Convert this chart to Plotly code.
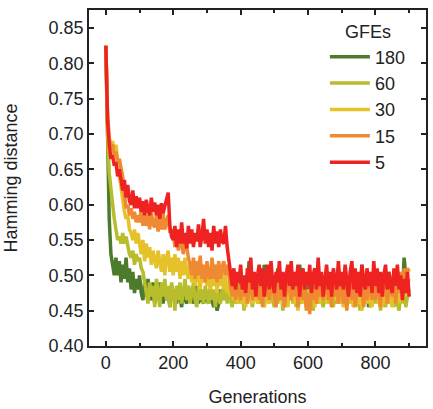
import plotly.graph_objects as go

# Generations sampled every 5
gens = list(range(0, 901, 5))

series_names = ["180", "60", "30", "15", "5"]
colors = ["#4d7b2c", "#b7bd2c", "#e6c22a", "#ef8a32", "#ef2222"]

gfe_180 = [
    0.825, 0.66, 0.58, 0.53, 0.51, 0.50, 0.525, 0.50, 0.52, 0.49,
    0.515, 0.495, 0.525, 0.49, 0.51, 0.48, 0.505, 0.475, 0.495, 0.48,
    0.50, 0.475, 0.465, 0.49, 0.47, 0.495, 0.475, 0.465, 0.49, 0.46,
    0.485, 0.465, 0.49, 0.47, 0.46, 0.485, 0.465, 0.475, 0.455, 0.48,
    0.465, 0.48, 0.46, 0.485, 0.465, 0.455, 0.48, 0.465, 0.46, 0.485,
    0.465, 0.48, 0.46, 0.47, 0.485, 0.46, 0.48, 0.465, 0.46, 0.48,
    0.465, 0.46, 0.48, 0.465, 0.455, 0.47, 0.45, 0.46, 0.48, 0.465,
    0.485, 0.465, 0.49, 0.47, 0.485, 0.465, 0.49, 0.47, 0.495, 0.475,
    0.495, 0.47, 0.49, 0.465, 0.485, 0.52, 0.47, 0.49, 0.465, 0.485,
    0.495, 0.47, 0.49, 0.475, 0.515, 0.48, 0.47, 0.495, 0.475, 0.49,
    0.495, 0.47, 0.51, 0.475, 0.49, 0.465, 0.495, 0.475, 0.47, 0.49,
    0.475, 0.495, 0.47, 0.49, 0.465, 0.515, 0.495, 0.47, 0.49, 0.475,
    0.465, 0.49, 0.47, 0.495, 0.475, 0.47, 0.49, 0.465, 0.485, 0.495,
    0.47, 0.485, 0.49, 0.465, 0.485, 0.495, 0.47, 0.49, 0.51, 0.465,
    0.49, 0.475, 0.495, 0.47, 0.485, 0.49, 0.465, 0.485, 0.495, 0.47,
    0.485, 0.49, 0.515, 0.47, 0.49, 0.475, 0.455, 0.47, 0.49, 0.475,
    0.495, 0.47, 0.485, 0.49, 0.465, 0.485, 0.495, 0.47, 0.49, 0.475,
    0.465, 0.49, 0.475, 0.495, 0.47, 0.49, 0.475, 0.525, 0.495, 0.475,
    0.47,
]
gfe_60 = [
    0.825, 0.70, 0.645, 0.62, 0.60, 0.58, 0.565, 0.55, 0.555, 0.545,
    0.56, 0.545, 0.555, 0.54, 0.53, 0.525, 0.535, 0.515, 0.53, 0.52,
    0.525, 0.51, 0.505, 0.49, 0.475, 0.46, 0.49, 0.47, 0.485, 0.455,
    0.495, 0.47, 0.455, 0.49, 0.47, 0.495, 0.465, 0.485, 0.455, 0.49,
    0.475, 0.45, 0.485, 0.465, 0.49, 0.46, 0.475, 0.495, 0.465, 0.485,
    0.46, 0.48, 0.49, 0.465, 0.455, 0.485, 0.465, 0.48, 0.46, 0.485,
    0.47, 0.46, 0.485, 0.465, 0.48, 0.455, 0.485, 0.465, 0.46, 0.48,
    0.465, 0.485, 0.46, 0.48, 0.465, 0.455, 0.48, 0.46, 0.47, 0.485,
    0.46, 0.48, 0.45, 0.475, 0.46, 0.485, 0.47, 0.455, 0.48, 0.465,
    0.485, 0.46, 0.47, 0.48, 0.455, 0.47, 0.485, 0.46, 0.48, 0.465,
    0.455, 0.48, 0.46, 0.475, 0.485, 0.45, 0.47, 0.48, 0.46, 0.475,
    0.485, 0.46, 0.475, 0.455, 0.48, 0.465, 0.46, 0.485, 0.465, 0.455,
    0.48, 0.46, 0.475, 0.45, 0.47, 0.48, 0.46, 0.485, 0.465, 0.455,
    0.47, 0.48, 0.46, 0.485, 0.465, 0.455, 0.48, 0.46, 0.47, 0.48,
    0.46, 0.475, 0.455, 0.48, 0.485, 0.46, 0.475, 0.455, 0.48, 0.465,
    0.46, 0.45, 0.475, 0.48, 0.46, 0.475, 0.485, 0.455, 0.47, 0.46,
    0.48, 0.46, 0.475, 0.45, 0.48, 0.47, 0.455, 0.48, 0.46, 0.475,
    0.48, 0.455, 0.475, 0.46, 0.45, 0.475, 0.46, 0.48, 0.455, 0.47,
    0.48,
]
gfe_30 = [
    0.825, 0.72, 0.675, 0.68, 0.69, 0.675, 0.685, 0.66, 0.64, 0.625,
    0.605, 0.59, 0.58, 0.585, 0.565, 0.56, 0.55, 0.565, 0.545, 0.56,
    0.545, 0.53, 0.55, 0.52, 0.545, 0.525, 0.54, 0.515, 0.535, 0.52,
    0.51, 0.535, 0.515, 0.505, 0.53, 0.50, 0.525, 0.535, 0.505, 0.525,
    0.50, 0.53, 0.505, 0.525, 0.495, 0.52, 0.50, 0.525, 0.505, 0.495,
    0.52, 0.49, 0.51, 0.485, 0.515, 0.495, 0.48, 0.51, 0.49, 0.505,
    0.485, 0.51, 0.48, 0.505, 0.485, 0.515, 0.475, 0.50, 0.485, 0.505,
    0.48, 0.50, 0.475, 0.49, 0.47, 0.485, 0.465, 0.48, 0.46, 0.475,
    0.485, 0.46, 0.475, 0.455, 0.485, 0.465, 0.48, 0.46, 0.49, 0.47,
    0.46, 0.485, 0.465, 0.48, 0.455, 0.485, 0.47, 0.46, 0.49, 0.475,
    0.465, 0.455, 0.485, 0.47, 0.48, 0.46, 0.49, 0.465, 0.455, 0.48,
    0.47, 0.49, 0.46, 0.48, 0.45, 0.475, 0.485, 0.46, 0.48, 0.465,
    0.46, 0.48, 0.465, 0.49, 0.455, 0.48, 0.47, 0.46, 0.485, 0.465,
    0.48, 0.46, 0.49, 0.47, 0.455, 0.48, 0.465, 0.49, 0.46, 0.475,
    0.465, 0.455, 0.48, 0.49, 0.46, 0.47, 0.485, 0.455, 0.49, 0.465,
    0.46, 0.48, 0.45, 0.475, 0.49, 0.46, 0.48, 0.465, 0.455, 0.48,
    0.465, 0.49, 0.46, 0.48, 0.455, 0.47, 0.49, 0.46, 0.48, 0.465,
    0.455, 0.48, 0.465, 0.49, 0.46, 0.48, 0.465, 0.49, 0.47, 0.485,
    0.495,
]
gfe_15 = [
    0.825, 0.73, 0.695, 0.68, 0.685, 0.67, 0.675, 0.66, 0.665, 0.65,
    0.64, 0.615, 0.595, 0.60, 0.585, 0.595, 0.58, 0.59, 0.575, 0.585,
    0.575, 0.595, 0.57, 0.59, 0.57, 0.585, 0.565, 0.59, 0.572, 0.568,
    0.585, 0.562, 0.58, 0.565, 0.588, 0.565, 0.578, 0.585, 0.56, 0.565,
    0.56, 0.54, 0.56, 0.535, 0.555, 0.54, 0.53, 0.555, 0.535, 0.525,
    0.515, 0.50, 0.525, 0.495, 0.52, 0.50, 0.528, 0.495, 0.515, 0.49,
    0.52, 0.50, 0.495, 0.525, 0.495, 0.515, 0.49, 0.52, 0.495, 0.512,
    0.52, 0.50, 0.515, 0.50, 0.48, 0.47, 0.495, 0.465, 0.49, 0.475,
    0.465, 0.495, 0.47, 0.49, 0.46, 0.485, 0.50, 0.465, 0.49, 0.47,
    0.50, 0.465, 0.485, 0.455, 0.49, 0.47, 0.50, 0.465, 0.485, 0.50,
    0.47, 0.455, 0.485, 0.50, 0.465, 0.49, 0.455, 0.475, 0.50, 0.48,
    0.465, 0.49, 0.47, 0.505, 0.455, 0.485, 0.50, 0.465, 0.485, 0.45,
    0.475, 0.445, 0.485, 0.465, 0.495, 0.46, 0.50, 0.47, 0.485, 0.465,
    0.49, 0.50, 0.465, 0.485, 0.455, 0.505, 0.47, 0.49, 0.46, 0.495,
    0.48, 0.46, 0.49, 0.45, 0.485, 0.50, 0.465, 0.49, 0.455, 0.485,
    0.50, 0.47, 0.485, 0.455, 0.49, 0.465, 0.50, 0.48, 0.465, 0.505,
    0.465, 0.49, 0.48, 0.455, 0.50, 0.47, 0.49, 0.46, 0.485, 0.50,
    0.47, 0.49, 0.46, 0.50, 0.475, 0.505, 0.48, 0.51, 0.485, 0.51,
    0.505,
]
gfe_5 = [
    0.825, 0.72, 0.685, 0.665, 0.67, 0.655, 0.66, 0.64, 0.65, 0.635,
    0.62, 0.635, 0.61, 0.628, 0.605, 0.60, 0.62, 0.595, 0.612, 0.595,
    0.61, 0.59, 0.605, 0.585, 0.607, 0.592, 0.585, 0.61, 0.59, 0.603,
    0.585, 0.60, 0.58, 0.602, 0.588, 0.598, 0.607, 0.617, 0.57, 0.555,
    0.55, 0.57, 0.54, 0.565, 0.545, 0.575, 0.545, 0.56, 0.538, 0.57,
    0.545, 0.565, 0.54, 0.56, 0.548, 0.572, 0.54, 0.555, 0.58, 0.545,
    0.565, 0.54, 0.56, 0.535, 0.57, 0.545, 0.562, 0.54, 0.565, 0.548,
    0.545, 0.57, 0.54, 0.52, 0.50, 0.485, 0.51, 0.48, 0.505, 0.49,
    0.515, 0.48, 0.50, 0.475, 0.51, 0.49, 0.525, 0.48, 0.505, 0.47,
    0.50, 0.515, 0.485, 0.51, 0.47, 0.50, 0.515, 0.48, 0.52, 0.49,
    0.475, 0.505, 0.49, 0.52, 0.48, 0.505, 0.47, 0.50, 0.515, 0.485,
    0.52, 0.48, 0.505, 0.485, 0.515, 0.47, 0.50, 0.51, 0.48, 0.505,
    0.485, 0.515, 0.475, 0.50, 0.51, 0.48, 0.525, 0.485, 0.505, 0.47,
    0.50, 0.515, 0.48, 0.505, 0.47, 0.51, 0.495, 0.48, 0.52, 0.485,
    0.505, 0.48, 0.515, 0.485, 0.47, 0.505, 0.52, 0.48, 0.51, 0.475,
    0.505, 0.47, 0.515, 0.49, 0.48, 0.51, 0.485, 0.505, 0.475, 0.52,
    0.485, 0.51, 0.475, 0.505, 0.47, 0.50, 0.515, 0.48, 0.505, 0.485,
    0.475, 0.51, 0.485, 0.515, 0.48, 0.50, 0.465, 0.495, 0.475, 0.505,
    0.47,
]
all_series = [gfe_180, gfe_60, gfe_30, gfe_15, gfe_5]
for s in all_series:
    assert len(s) == len(gens), len(s)

y_ticks = [0.40, 0.45, 0.50, 0.55, 0.60, 0.65, 0.70, 0.75, 0.80, 0.85]
x_ticks = [0, 200, 400, 600, 800]

fig = go.Figure()
for name, col, vals in zip(series_names, colors, all_series):
    fig.add_trace(go.Scatter(x=gens, y=vals, mode="lines", name=name,
                             line=dict(color=col, width=3.5)))

font_family = "Liberation Sans, Arial, sans-serif"
fs = 18
fig.update_layout(
    width=433, height=409,
    margin=dict(l=89, r=5, t=10, b=60),
    paper_bgcolor="white", plot_bgcolor="white",
    font=dict(family=font_family, size=fs, color="#222"),
    legend=dict(
        title=dict(text="GFEs", side="top center", font=dict(size=fs)),
        x=0.70, y=0.985, xanchor="left", yanchor="top",
        bgcolor="rgba(0,0,0,0)", font=dict(size=fs),
        itemwidth=40,
    ),
    xaxis=dict(
        range=[-50, 950], tickvals=x_ticks,
        ticks="inside", ticklen=5, tickwidth=1.5, tickcolor="#222",
        minor=dict(dtick=100, tick0=0, ticks="inside", ticklen=3, tickwidth=1.5, tickcolor="#222"),
        showline=True, linecolor="#222", linewidth=1.5, mirror="ticks",
        showgrid=False, zeroline=False,
        title=dict(text="Generations", standoff=18, font=dict(size=fs)),
        tickfont=dict(size=fs),
    ),
    yaxis=dict(
        range=[0.40, 0.8755], tickvals=y_ticks, tickformat=".2f",
        ticks="inside", ticklen=5, tickwidth=1.5, tickcolor="#222",
        showline=True, linecolor="#222", linewidth=1.5, mirror="ticks",
        showgrid=False, zeroline=False,
        title=dict(text="Hamming distance", standoff=26, font=dict(size=fs)),
        tickfont=dict(size=fs),
    ),
)

fig.write_html("out.html")
